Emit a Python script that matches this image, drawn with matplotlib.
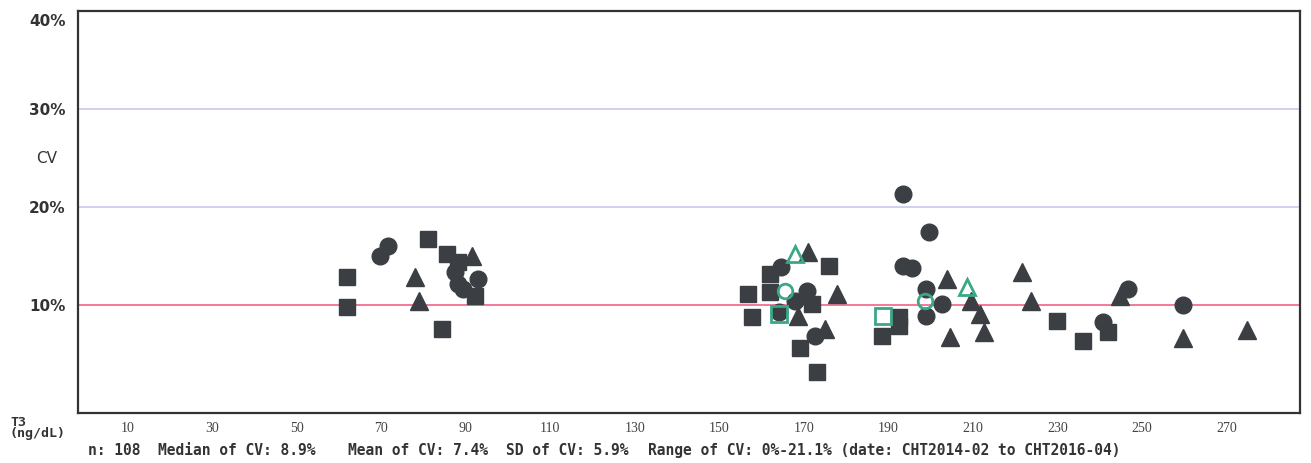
import matplotlib
matplotlib.use("Agg")
import matplotlib.pyplot as plt

# T3 value (ng/dL) and CV (%) per marker type
sq_x = [62.0, 62.0, 81.1, 85.6, 88.2, 92.2, 84.4, 156.8, 157.7, 162.0, 162.0, 171.9,
        169.1, 173.1, 175.9, 192.5, 192.5, 188.5, 229.9, 236.1, 242.0]
sq_y = [12.9, 9.8, 16.7, 15.2, 14.4, 10.9, 7.6, 11.1, 8.8, 13.2, 11.3, 10.1,
        5.6, 3.2, 14.0, 8.8, 7.9, 6.8, 8.4, 6.3, 7.2]

ci_x = [69.8, 71.6, 87.5, 88.2, 89.4, 92.9, 164.6, 167.9, 170.8, 172.6, 164.1,
        193.5, 199.6, 193.5, 195.6, 198.9, 198.9, 202.7, 246.7, 240.8, 259.7]
ci_y = [15.0, 16.0, 13.4, 12.1, 11.6, 12.7, 13.9, 10.4, 11.4, 6.8, 9.3,
        21.3, 17.4, 14.0, 13.8, 11.6, 8.9, 10.1, 11.6, 8.3, 10.0]

tr_x = [78.0, 78.9, 91.5, 171.0, 177.9, 168.6, 175.0, 203.9, 209.6, 211.7, 212.6,
        204.6, 221.6, 223.8, 244.8, 259.7, 274.8]
tr_y = [12.9, 10.4, 15.0, 15.4, 11.1, 8.9, 7.6, 12.7, 10.4, 9.1, 7.2,
        6.7, 13.4, 10.4, 10.9, 6.6, 7.4]

# open green markers
g_sq_x = [164.1, 188.7]
g_sq_y = [9.1, 8.9]
g_ci_x = [165.6, 198.7]
g_ci_y = [11.4, 10.4]
g_tr_x = [167.9, 208.6]
g_tr_y = [15.2, 11.8]

x_ticks = [10, 30, 50, 70, 90, 110, 130, 150, 170, 190, 210, 230, 250, 270]
y_labels = [(39.0, "40%"), (30, "30%"), (20, "20%"), (10, "10%")]

stats = ["n: 108", "Median of CV: 8.9%", "Mean of CV: 7.4%", "SD of CV: 5.9%",
         "Range of CV: 0%-21.1% (date: CHT2014-02 to CHT2016-04)"]
stats_x = [88, 158, 348, 506, 648]

dark = "#3b3e43"
green = "#3aa887"

fig = plt.figure(figsize=(13.11, 4.64), dpi=100)
ax = fig.add_axes([78 / 1311, 1 - 414 / 464, 1222 / 1311, 402 / 464])

ax.axhline(20, color="#c9c9ee", lw=1.2, zorder=1)
ax.axhline(30, color="#c9c9ee", lw=1.2, zorder=1)
ax.axhline(10, color="#f07090", lw=1.3, zorder=1)

ax.plot(sq_x, sq_y, "s", color=dark, markersize=12, zorder=3)
ax.plot(ci_x, ci_y, "o", color=dark, markersize=12, zorder=3)
ax.plot(tr_x, tr_y, "^", color=dark, markersize=13, zorder=3)

ax.plot(g_sq_x, g_sq_y, "s", mfc="none", mec=green, mew=2, markersize=11, zorder=4)
ax.plot(g_ci_x, g_ci_y, "o", mfc="none", mec=green, mew=2, markersize=10.5, zorder=4)
ax.plot(g_tr_x, g_tr_y, "^", mfc="none", mec=green, mew=2, markersize=12, zorder=4)

ax.set_xlim(-1.7, 287.4)
ax.set_ylim(-1.02, 40)

ax.set_xticks(x_ticks)
ax.set_xticklabels([str(t) for t in x_ticks], fontsize=10, color="#444444",
                   family="Liberation Serif")
ax.tick_params(axis="x", length=0, pad=6)
ax.set_yticks([])

for sp in ax.spines.values():
    sp.set_color("#333333")
    sp.set_linewidth(1.6)

ytr = ax.get_yaxis_transform()
for yv, lab in y_labels:
    ax.text(-0.01, yv, lab, transform=ytr, ha="right", va="center",
            fontsize=11, fontweight="bold", color="#333333")
ax.text(-0.026, 25.1, "CV", transform=ytr, ha="center", va="center",
        fontsize=11, color="#333333")

fig.text(10 / 1311, 1 - 416 / 464, "T3\n(ng/dL)", ha="left", va="top",
         fontsize=9.5, fontweight="bold", family="DejaVu Sans Mono",
         linespacing=0.8, color="#333333")

for sx, st in zip(stats_x, stats):
    fig.text(sx / 1311, 1 - 451 / 464, st, ha="left", va="center",
             fontsize=10.5, fontweight="bold", family="DejaVu Sans Mono",
             color="#333333")

fig.savefig("out.png", dpi=100)
